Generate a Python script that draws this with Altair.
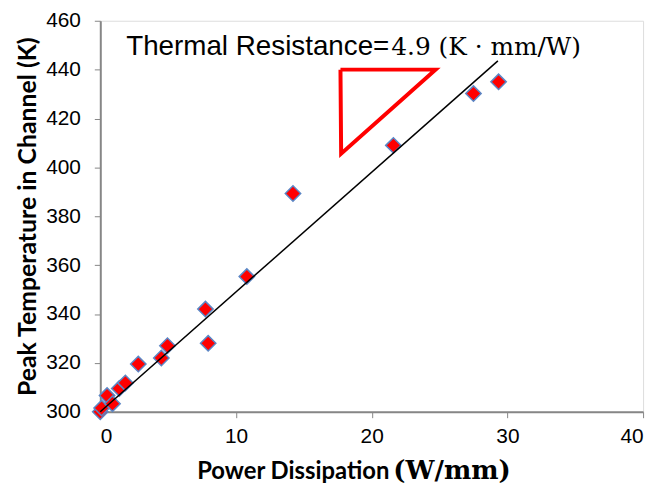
import altair as alt
import pandas as pd

power = [0.0, 0.1, 0.5, 0.9, 1.4, 1.85, 2.8, 4.5, 4.95, 7.75, 7.95, 10.8, 14.2, 21.6, 27.5, 29.35]
temp = [300.0, 301.5, 306.6, 303.3, 309.5, 311.8, 319.5, 322.0, 327.0, 342.0, 328.0, 355.3, 389.3, 409.0, 430.2, 435.0]

# Linear trend line end points (slope 4.9 K*mm/W)
fit_x = [0.0, 29.3]
fit_y = [300.0, 443.6]

# Red slope triangle
tri_x = [17.7, 24.7, 17.75, 17.7]
tri_y = [440.0, 440.0, 405.6, 440.0]

x_ticks = [0, 10, 20, 30, 40]
y_ticks = [300, 320, 340, 360, 380, 400, 420, 440, 460]

pts = pd.DataFrame({"power": power, "temp": temp})
fit = pd.DataFrame({"power": fit_x, "temp": fit_y})
tri = pd.DataFrame({"power": tri_x, "temp": tri_y, "i": list(range(len(tri_x)))})

W, H = 547, 394
GRAY = "#868686"

xscale = alt.Scale(domain=[0, 40], nice=False)
yscale = alt.Scale(domain=[300, 460], nice=False)

xaxis = alt.Axis(values=x_ticks, title=None, grid=False, labelFont="Liberation Sans",
                 labelFontSize=21, labelColor="black", tickSize=6, tickColor=GRAY,
                 domainColor=GRAY, domainWidth=2, labelPadding=8)
yaxis = alt.Axis(values=y_ticks, title="Peak Temperature in Channel (K)", grid=False,
                 labelFont="Liberation Sans", labelFontSize=21, labelColor="black",
                 tickSize=6, tickColor=GRAY, domainColor=GRAY, domainWidth=2,
                 labelPadding=14, titleFont="Lato", titleFontWeight="bold",
                 titleFontSize=25, titleColor="black", titlePadding=5)

points = alt.Chart(pts).mark_point(
    shape="diamond", filled=True, fill="#FF0000", stroke="#5B86C5",
    strokeWidth=1.5, size=240, opacity=1
).encode(
    x=alt.X("power:Q", scale=xscale, axis=xaxis),
    y=alt.Y("temp:Q", scale=yscale, axis=yaxis),
)

trend = alt.Chart(fit).mark_line(color="black", strokeWidth=1.5).encode(
    x="power:Q", y="temp:Q"
)

triangle = alt.Chart(tri).mark_line(color="#FF0000", strokeWidth=4, strokeJoin="miter").encode(
    x="power:Q", y="temp:Q", order="i:O"
)

ann_sans = alt.Chart().mark_text(
    text="Thermal Resistance=", font="Liberation Sans", fontSize=28,
    align="right", baseline="alphabetic", color="black"
).encode(x=alt.datum(21.3), y=alt.datum(445.9))

ann_serif = alt.Chart().mark_text(
    text="4.9 (K · mm/W)", font="DejaVu Serif", fontSize=25,
    align="left", baseline="alphabetic", color="black", dx=2
).encode(x=alt.datum(21.3), y=alt.datum(445.9))

xt_sans = alt.Chart().mark_text(
    text="Power Dissipation", font="Lato", fontWeight="bold", fontSize=24,
    align="right", baseline="alphabetic", color="black"
).encode(x=alt.datum(21.3), y=alt.value(H + 68))

xt_serif = alt.Chart().mark_text(
    text="(W/mm)", font="DejaVu Serif", fontWeight="bold", fontSize=26,
    align="left", baseline="alphabetic", color="black", dx=4
).encode(x=alt.datum(21.3), y=alt.value(H + 68))

chart = alt.layer(points, trend, triangle, ann_sans, ann_serif, xt_sans, xt_serif).properties(
    width=W, height=H,
    autosize=alt.AutoSizeParams(type="none"),
    padding={"left": 93, "top": 11, "right": 10, "bottom": 75},
).configure_view(stroke="black", strokeWidth=1).configure(background="white")

chart.save("out.html", embed_options={"renderer": "svg", "actions": False})
